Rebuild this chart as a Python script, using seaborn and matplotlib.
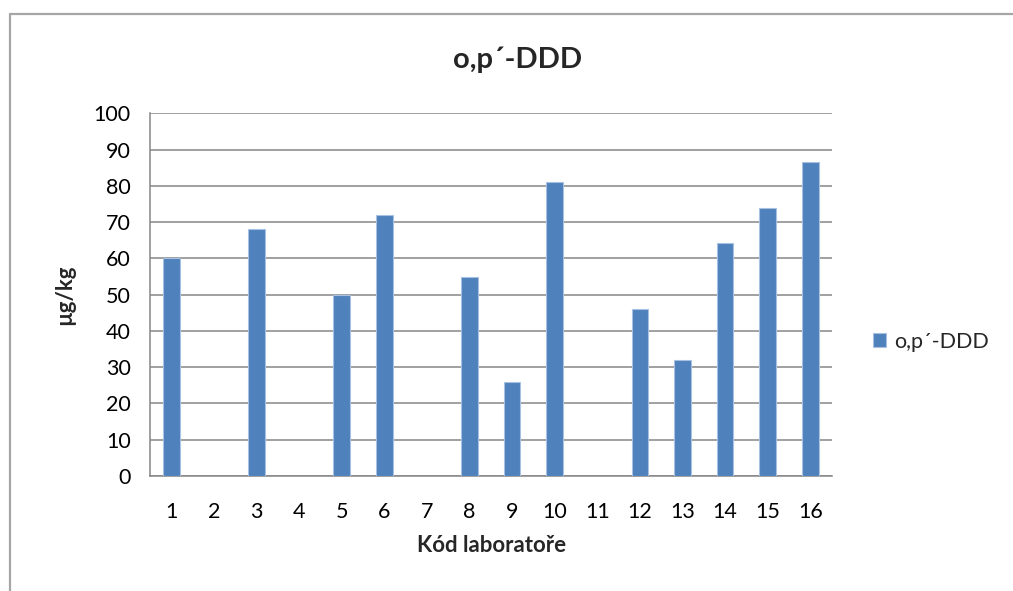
import numpy as np
import pandas as pd
import matplotlib
matplotlib.use("Agg")
import matplotlib.pyplot as plt
from matplotlib.lines import Line2D
from matplotlib.ticker import FixedLocator
import seaborn as sns

# Lab codes and measured o,p'-DDD concentrations (µg/kg); NaN = no result reported
lab_codes = [str(i) for i in range(1, 17)]
values = [60, np.nan, 68, np.nan, 50, 72, np.nan, 55, 26, 81, np.nan, 46, 32, 64.2, 74, 86.7]
series_name = "o,p´-DDD"
y_ticks = list(range(0, 101, 10))

df = pd.DataFrame({"lab": lab_codes, "value": values})

sns.set_theme(style="white")
plt.rcParams["font.family"] = ["Lato", "DejaVu Sans"]

W, H = 1013, 591
fig = plt.figure(figsize=(W / 100, H / 100), dpi=100)
ax = fig.add_axes([150 / W, 1 - 476 / H, (831.7 - 150) / W, (476 - 113.3) / H])

bar_color = "#4F81BD"
grid_color = "#868686"

sns.barplot(data=df, x="lab", y="value", order=lab_codes, color=bar_color,
            width=0.39, saturation=1, errorbar=None, label=series_name,
            edgecolor="#A9C1E0", linewidth=0.8, ax=ax, zorder=3)

ax.set_xlim(-0.5, len(lab_codes) - 0.5)
ax.set_ylim(0, 100)
ax.set_yticks(y_ticks)
ax.yaxis.grid(True, color=grid_color, linewidth=1.1, zorder=0)
ax.xaxis.grid(False)

for side in ("top", "right"):
    ax.spines[side].set_visible(False)
for side in ("left", "bottom"):
    ax.spines[side].set_color(grid_color)
    ax.spines[side].set_linewidth(1.1)

# category boundary tick marks on the x axis, labels centred on the bars
ax.xaxis.set_minor_locator(FixedLocator(np.arange(-0.5, len(lab_codes), 1.0)))
ax.tick_params(axis="x", which="major", length=0, pad=19, labelsize=15.5, colors="black")
ax.tick_params(axis="x", which="minor", length=7, width=1.1, color=grid_color, direction="out")
ax.tick_params(axis="y", which="major", length=8, width=1.1, color=grid_color,
               direction="out", pad=6, labelsize=15.5, labelcolor="black")

ax.set_xlabel("")
ax.set_ylabel("")

fig.text(518 / W, 1 - 60 / H, series_name, ha="center", va="center",
         fontsize=21, fontweight="bold")
fig.text(492 / W, 1 - 546 / H, "Kód laboratoře", ha="center", va="center",
         fontsize=16, fontweight="bold")
fig.text(65 / W, 1 - 295 / H, "µg/kg", ha="center", va="center",
         rotation=90, fontsize=16, fontweight="bold")

leg = ax.legend(loc="center left", bbox_to_anchor=(873 / W, 1 - 342 / H),
                bbox_transform=fig.transFigure, frameon=False, fontsize=15.5,
                handlelength=0.62, handleheight=0.62, handletextpad=0.35,
                borderaxespad=0, borderpad=0)

# outer chart border (top and left edges)
border_kw = dict(color="#A6A6A6", linewidth=1.6, transform=fig.transFigure)
fig.add_artist(Line2D([10 / W, 1.0], [1 - 14 / H, 1 - 14 / H], **border_kw))
fig.add_artist(Line2D([10 / W, 10 / W], [0.0, 1 - 14 / H], **border_kw))

fig.savefig("out.png", dpi=100)
